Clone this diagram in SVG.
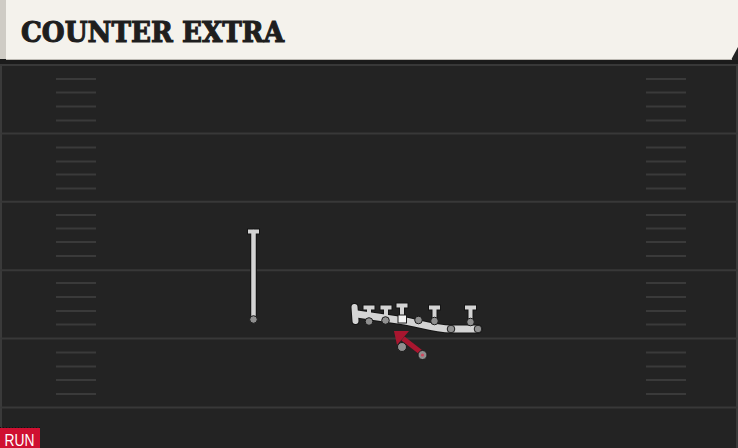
<svg xmlns="http://www.w3.org/2000/svg" width="738" height="448" viewBox="0 0 738 448">
<defs>
<style>
.yard{stroke:#383838;stroke-width:2}
.hash{stroke:#3a3a3a;stroke-width:2}
.under{fill:none;stroke:#141414;stroke-linecap:round;stroke-linejoin:round}
.route{fill:none;stroke:#d4d4d4;stroke-linecap:round;stroke-linejoin:round}
.tee{fill:none;stroke-linecap:butt;stroke-linejoin:miter}
.dot{fill:#8f8f8f;stroke:#1a1a1a;stroke-width:1}
.title{font-family:"DejaVu Serif","Liberation Serif",serif;font-weight:bold;font-size:28px;fill:#1e1e1e;stroke:#1e1e1e;stroke-width:1.1}
</style>
</defs>
<!-- field -->
<rect x="0" y="0" width="738" height="448" fill="#232323"/>
<rect x="0" y="60" width="2" height="388" fill="#3a3a3a"/>
<rect x="736" y="60" width="2" height="388" fill="#3a3a3a"/>
<rect x="0" y="59" width="738" height="5" fill="#1b1b1b"/>
<g id="yardlines">
<line class="yard" x1="0" y1="65" x2="738" y2="65"/>
<line class="yard" x1="0" y1="133.4" x2="738" y2="133.4"/>
<line class="yard" x1="0" y1="201.8" x2="738" y2="201.8"/>
<line class="yard" x1="0" y1="270.2" x2="738" y2="270.2"/>
<line class="yard" x1="0" y1="338.6" x2="738" y2="338.6"/>
<line class="yard" x1="0" y1="407.5" x2="738" y2="407.5"/>
</g>
<g id="hashes">
<path class="hash" d="M56,79H96M56,92.5H96M56,106.5H96M56,120.5H96M56,147.5H96M56,161.5H96M56,174.5H96M56,188.5H96M56,215H96M56,228.5H96M56,242H96M56,256H96M56,283H96M56,297H96M56,311H96M56,324.5H96M56,352.5H96M56,366.5H96M56,380H96M56,394H96"/>
<path class="hash" d="M646,79H686M646,92.5H686M646,106.5H686M646,120.5H686M646,147.5H686M646,161.5H686M646,174.5H686M646,188.5H686M646,215H686M646,228.5H686M646,242H686M646,256H686M646,283H686M646,297H686M646,311H686M646,324.5H686M646,352.5H686M646,366.5H686M646,380H686M646,394H686"/>
</g>
<!-- header -->
<g id="header">
<rect x="0" y="0" width="6" height="59" fill="#cfccc5"/>
<rect x="6" y="0" width="732" height="59" fill="#f4f2ec"/>
<polygon points="738,47 738,60 731,60" fill="#232323"/>
<line x1="6" y1="59.5" x2="732" y2="59.5" stroke="#bcb9b2" stroke-width="1"/>
<text class="title" x="21" y="42" textLength="263" lengthAdjust="spacingAndGlyphs">COUNTER EXTRA</text>
</g>
<!-- connectors / routes -->
<g id="connectors">
<path class="under" stroke-width="6.5" d="M253.5,319 V232"/>
<path class="under tee" stroke-width="6" d="M247,231.5 H260"/>
<path class="under" stroke-width="9" d="M478,329 L451,329 C436,329 421,324 405,321 L357,314"/>
<path class="under" stroke-width="8" d="M354.5,307 L355.5,321"/>
<path class="under" stroke-width="6" d="M369,321 V309 M386,320 V309 M402,318 V306 M434.5,320 V309 M470.5,321 V309"/>
<path class="under tee" stroke-width="6" d="M362.5,307.5 H375.5 M379.5,307.5 H392.5 M395.5,305.5 H408.5 M428,307.5 H441 M464,307.5 H477"/>
<path class="route" stroke-width="4.5" d="M253.5,319 V232"/>
<path class="route tee" stroke-width="4" d="M248,231.5 H259"/>
<path class="route" stroke-width="7" d="M478,329 L451,329 C436,329 421,324 405,321 L357,314"/>
<path class="route" stroke-width="6" d="M354.5,307 L355.5,321"/>
<path class="route" stroke-width="4" d="M369,321 V309 M386,320 V309 M402,318 V306 M434.5,320 V309 M470.5,321 V309"/>
<path class="route tee" stroke-width="4" d="M363.5,307.5 H374.5 M380.5,307.5 H391.5 M396.5,305.5 H407.5 M429,307.5 H440 M465,307.5 H476"/>
<line x1="423" y1="354" x2="403" y2="338.5" stroke="#a8162f" stroke-width="5"/>
<polygon points="394,331 409,331 397,345" fill="#a8162f"/>
</g>
<!-- players -->
<g id="player-wr"><circle class="dot" cx="253.5" cy="319.5" r="3.8"/></g>
<g id="player-lt"><circle class="dot" cx="369" cy="321.5" r="3.8"/></g>
<g id="player-lg"><circle class="dot" cx="385.5" cy="320.5" r="3.8"/></g>
<g id="player-c"><rect x="398" y="315" width="8.5" height="8" fill="#f4f4f4" stroke="#1a1a1a" stroke-width="1"/></g>
<g id="player-rg"><circle class="dot" cx="418.5" cy="320" r="3.8"/></g>
<g id="player-rt"><circle class="dot" cx="434.5" cy="321" r="3.8"/></g>
<g id="player-te"><circle class="dot" cx="451" cy="329" r="3.8"/></g>
<g id="player-y"><circle class="dot" cx="470.5" cy="322" r="3.8"/></g>
<g id="player-h"><circle class="dot" cx="478" cy="329" r="3.8"/></g>
<g id="player-qb"><circle class="dot" cx="402" cy="347" r="4.5" fill="#7a7a7a"/></g>
<g id="player-rb"><circle class="dot" cx="422.5" cy="355" r="4.5" fill="#7a7a7a"/><circle cx="422.5" cy="355" r="1.6" fill="#d0485f"/></g>
<!-- badge -->
<g id="badge">
<line x1="0" y1="427.5" x2="40" y2="427.5" stroke="#111" stroke-width="1" stroke-dasharray="1,2"/>
<rect x="0" y="428" width="40" height="20" fill="#cf1031"/>
<text x="4.5" y="445.5" font-family="'Liberation Sans',Arial,sans-serif" font-size="17" fill="#ffffff" textLength="30" lengthAdjust="spacingAndGlyphs">RUN</text>
</g>
</svg>
